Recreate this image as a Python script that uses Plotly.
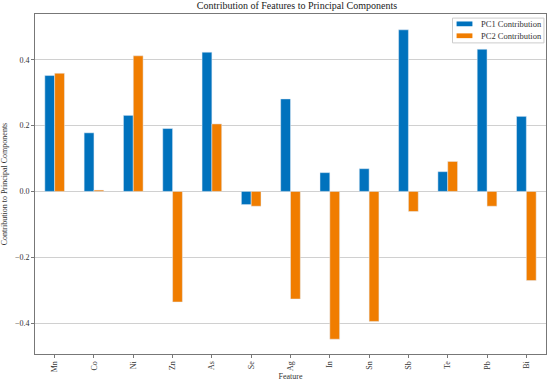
import plotly.graph_objects as go

features = ["Mn", "Co", "Ni", "Zn", "As", "Se", "Ag", "In", "Sn", "Sb", "Te", "Pb", "Bi"]
pc1 = [0.352, 0.178, 0.231, 0.191, 0.423, -0.040, 0.281, 0.057, 0.069, 0.491, 0.060, 0.432, 0.228]
pc2 = [0.359, 0.004, 0.412, -0.336, 0.205, -0.045, -0.327, -0.449, -0.395, -0.061, 0.091, -0.045, -0.271]
y_ticks = [-0.4, -0.2, 0.0, 0.2, 0.4]
series_names = ["PC1 Contribution", "PC2 Contribution"]
series_colors = ["#0072BD", "#F07D00"]

FONT = "Liberation Serif"
fig = go.Figure()
for name, vals, col in zip(series_names, [pc1, pc2], series_colors):
    fig.add_trace(go.Bar(x=features, y=vals, name=name, marker_color=col, showlegend=False))

# compact matplotlib-style legend (paper coordinates)
fig.add_shape(type="rect", xref="paper", yref="paper", x0=0.817, x1=0.996, y0=0.915, y1=0.988,
              line=dict(color="#cccccc", width=1), fillcolor="white", layer="above")
for i, (name, col) in enumerate(zip(series_names, series_colors)):
    yc = 0.971 - i * 0.035
    fig.add_shape(type="rect", xref="paper", yref="paper", x0=0.825, x1=0.856,
                  y0=yc - 0.007, y1=yc + 0.007, line=dict(width=0), fillcolor=col, layer="above")
    fig.add_annotation(xref="paper", yref="paper", x=0.868, y=yc, text=name, showarrow=False,
                       xanchor="left", yanchor="middle", font=dict(size=8.5, color="#333"))

fig.update_layout(
    width=550, height=383,
    margin=dict(l=33, r=3, t=14, b=27),
    paper_bgcolor="white", plot_bgcolor="white",
    barmode="group", bargap=0.5, bargroupgap=0,
    font=dict(family=FONT, size=8, color="#333"),
    title=dict(text="Contribution of Features to Principal Components", x=0.54, xanchor="center",
               y=0.995, yanchor="top", font=dict(size=10, color="#222")),
    xaxis=dict(title=dict(text="Feature", font=dict(size=8), standoff=2), tickangle=-90,
               showline=True, mirror=True, linecolor="#777", linewidth=1,
               ticks="outside", ticklen=3, tickcolor="#777", range=[-0.5, 12.5]),
    yaxis=dict(title=dict(text="Contribution to Principal Components", font=dict(size=8), standoff=6),
               range=[-0.494, 0.539], tickvals=y_ticks, ticktext=[f"{v:.1f}".replace("-", "−") for v in y_ticks],
               showgrid=True, gridcolor="#d0d0d0", gridwidth=1, zeroline=False,
               showline=True, mirror=True, linecolor="#777", linewidth=1,
               ticks="outside", ticklen=3, tickcolor="#777"),
)
fig.write_html("out.html", config={"displayModeBar": False},
               post_script="document.body.style.margin='0';document.body.style.overflow='hidden';")
